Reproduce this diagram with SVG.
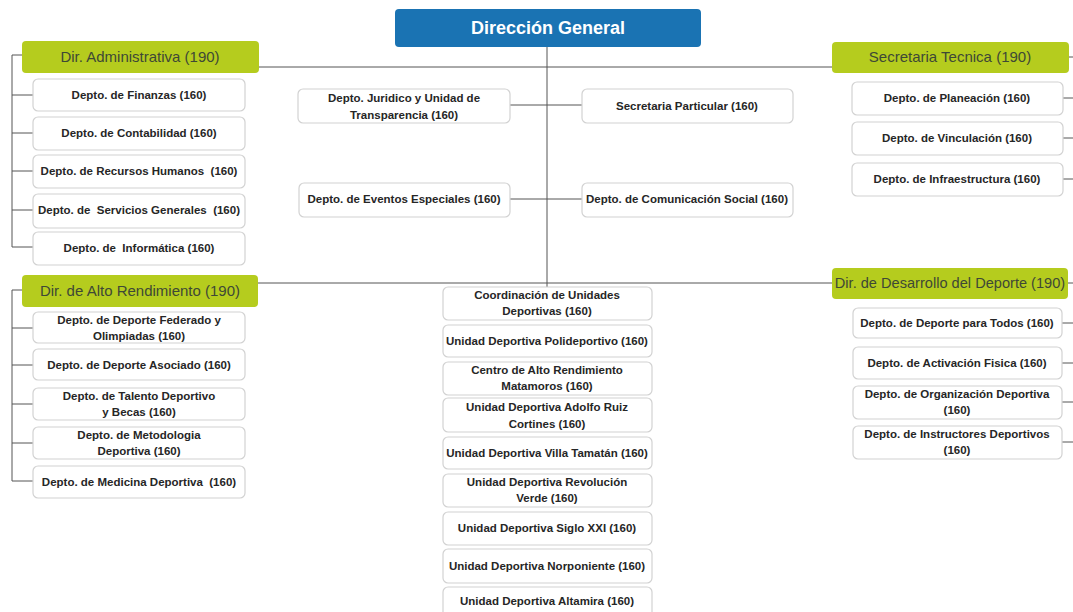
<svg xmlns="http://www.w3.org/2000/svg" width="1073" height="612" viewBox="0 0 1073 612">
<style>
.bg{fill:#ffffff}
.box{fill:#ffffff;stroke:#d2d2d2;stroke-width:1.2}
.hdr{fill:#b5cc1e}
.top{fill:#1a73b3}
.t{font-family:"Liberation Sans",Arial,sans-serif;font-size:11.5px;font-weight:bold;fill:#262626;text-anchor:middle}
.h{font-family:"Liberation Sans",Arial,sans-serif;font-size:15px;fill:#3e4836;text-anchor:middle}
.g{font-family:"Liberation Sans",Arial,sans-serif;font-size:18px;font-weight:bold;fill:#ffffff;text-anchor:middle}
.ln{stroke:#555555;stroke-width:1;fill:none}
.pre{white-space:pre}
</style>
<rect class="bg" x="0" y="0" width="1073" height="612"/>
<g id="connectors">
<path class="ln" d="M547 47 V287"/>
<path class="ln" d="M259 67 H832"/>
<path class="ln" d="M258 283 H832"/>
<path class="ln" d="M510 105 H582"/>
<path class="ln" d="M510 199 H582"/>
<path class="ln" d="M12 55 V247 M12 55 H22 M12 95 H33 M12 133 H33 M12 171 H33 M12 210 H33 M12 247 H33"/>
<path class="ln" d="M12 290 V481 M12 290 H22 M12 328 H33 M12 365 H33 M12 404 H33 M12 443 H33 M12 481 H33"/>
<path class="ln" d="M1069 57 H1073 M1063 98 H1073 M1063 138 H1073 M1063 179 H1073"/>
<path class="ln" d="M1068 283 H1073 M1062 323 H1073 M1062 363 H1073 M1062 402 H1073 M1062 442 H1073"/>
</g>
<g id="direccion-general"><rect class="top" x="395" y="9" width="306" height="38" rx="4"/><text class="g" x="548" y="34">Dirección General</text></g>
<g id="dir-administrativa"><rect class="hdr" x="22" y="41" width="237" height="32" rx="4"/><text class="h" x="140" y="62">Dir. Administrativa (190)</text></g>
<g id="finanzas"><rect class="box" x="33" y="79" width="212" height="32" rx="5"/><text class="t" x="139" y="99">Depto. de Finanzas (160)</text></g>
<g id="contabilidad"><rect class="box" x="33" y="117" width="212" height="33" rx="5"/><text class="t" x="139" y="137">Depto. de Contabilidad (160)</text></g>
<g id="recursos-humanos"><rect class="box" x="33" y="155" width="212" height="33" rx="5"/><text class="t pre" x="139" y="175">Depto. de Recursos Humanos  (160)</text></g>
<g id="servicios-generales"><rect class="box" x="33" y="194" width="212" height="34" rx="5"/><text class="t pre" x="139" y="214">Depto. de  Servicios Generales  (160)</text></g>
<g id="informatica"><rect class="box" x="33" y="232" width="212" height="33" rx="5"/><text class="t pre" x="139" y="252">Depto. de  Informática (160)</text></g>
<g id="juridico"><rect class="box" x="298" y="89" width="212" height="34" rx="5"/><text class="t" x="404" y="102">Depto. Juridico y Unidad de</text><text class="t" x="404" y="119">Transparencia (160)</text></g>
<g id="secretaria-particular"><rect class="box" x="582" y="89" width="211" height="34" rx="5"/><text class="t" x="687" y="110">Secretaria Particular (160)</text></g>
<g id="eventos-especiales"><rect class="box" x="299" y="183" width="211" height="34" rx="5"/><text class="t" x="404" y="203">Depto. de Eventos Especiales (160)</text></g>
<g id="comunicacion-social"><rect class="box" x="582" y="183" width="211" height="34" rx="5"/><text class="t" x="687" y="203">Depto. de Comunicación Social (160)</text></g>
<g id="secretaria-tecnica"><rect class="hdr" x="832" y="42" width="237" height="31" rx="4"/><text class="h" x="950" y="62">Secretaria Tecnica (190)</text></g>
<g id="planeacion"><rect class="box" x="852" y="82" width="211" height="33" rx="5"/><text class="t" x="957" y="102">Depto. de Planeación (160)</text></g>
<g id="vinculacion"><rect class="box" x="852" y="122" width="211" height="33" rx="5"/><text class="t" x="957" y="142">Depto. de Vinculación (160)</text></g>
<g id="infraestructura"><rect class="box" x="852" y="163" width="211" height="33" rx="5"/><text class="t" x="957" y="183">Depto. de Infraestructura (160)</text></g>
<g id="dir-alto-rendimiento"><rect class="hdr" x="22" y="275" width="236" height="32" rx="4"/><text class="h" x="140" y="296">Dir. de Alto Rendimiento (190)</text></g>
<g id="deporte-federado"><rect class="box" x="33" y="312" width="212" height="31" rx="5"/><text class="t" x="139" y="324">Depto. de Deporte Federado y</text><text class="t" x="139" y="340">Olimpiadas (160)</text></g>
<g id="deporte-asociado"><rect class="box" x="33" y="349" width="212" height="31" rx="5"/><text class="t" x="139" y="369">Depto. de Deporte Asociado (160)</text></g>
<g id="talento-deportivo"><rect class="box" x="33" y="388" width="212" height="32" rx="5"/><text class="t" x="139" y="400">Depto. de Talento Deportivo</text><text class="t" x="139" y="416">y Becas (160)</text></g>
<g id="metodologia"><rect class="box" x="33" y="427" width="212" height="32" rx="5"/><text class="t" x="139" y="439">Depto. de Metodologia</text><text class="t" x="139" y="455">Deportiva (160)</text></g>
<g id="medicina-deportiva"><rect class="box" x="33" y="466" width="212" height="32" rx="5"/><text class="t pre" x="139" y="486">Depto. de Medicina Deportiva  (160)</text></g>
<g id="coordinacion-unidades"><rect class="box" x="443" y="287" width="209" height="33" rx="5"/><text class="t" x="547" y="299">Coordinación de Unidades</text><text class="t" x="547" y="315">Deportivas (160)</text></g>
<g id="polideportivo"><rect class="box" x="443" y="325" width="209" height="32" rx="5"/><text class="t" x="547" y="345">Unidad Deportiva Polideportivo (160)</text></g>
<g id="centro-alto-rendimiento"><rect class="box" x="443" y="362" width="209" height="33" rx="5"/><text class="t" x="547" y="374">Centro de Alto Rendimiento</text><text class="t" x="547" y="390">Matamoros (160)</text></g>
<g id="adolfo-ruiz"><rect class="box" x="443" y="398" width="209" height="34" rx="5"/><text class="t" x="547" y="411">Unidad Deportiva Adolfo Ruiz</text><text class="t" x="547" y="428">Cortines (160)</text></g>
<g id="villa-tamatan"><rect class="box" x="443" y="437" width="209" height="32" rx="5"/><text class="t" x="547" y="457">Unidad Deportiva Villa Tamatán (160)</text></g>
<g id="revolucion-verde"><rect class="box" x="443" y="474" width="209" height="33" rx="5"/><text class="t" x="547" y="486">Unidad Deportiva Revolución</text><text class="t" x="547" y="502">Verde (160)</text></g>
<g id="siglo-xxi"><rect class="box" x="443" y="512" width="209" height="33" rx="5"/><text class="t" x="547" y="532">Unidad Deportiva Siglo XXI (160)</text></g>
<g id="norponiente"><rect class="box" x="443" y="549" width="209" height="34" rx="5"/><text class="t" x="547" y="570">Unidad Deportiva Norponiente (160)</text></g>
<g id="altamira"><rect class="box" x="443" y="587" width="209" height="34" rx="5"/><text class="t" x="547" y="605">Unidad Deportiva Altamira (160)</text></g>
<g id="dir-desarrollo-deporte"><rect class="hdr" x="832" y="268" width="236" height="31" rx="4"/><text class="h" x="950" y="288" style="font-size:14.6px">Dir. de Desarrollo del Deporte (190)</text></g>
<g id="deporte-para-todos"><rect class="box" x="853" y="308" width="209" height="30" rx="5"/><text class="t" x="957" y="327">Depto. de Deporte para Todos (160)</text></g>
<g id="activacion-fisica"><rect class="box" x="853" y="347" width="209" height="32" rx="5"/><text class="t" x="957" y="367">Depto. de Activación Fisica (160)</text></g>
<g id="organizacion-deportiva"><rect class="box" x="853" y="386" width="209" height="33" rx="5"/><text class="t" x="957" y="398">Depto. de Organización Deportiva</text><text class="t" x="957" y="414">(160)</text></g>
<g id="instructores-deportivos"><rect class="box" x="853" y="426" width="209" height="33" rx="5"/><text class="t" x="957" y="438">Depto. de Instructores Deportivos</text><text class="t" x="957" y="454">(160)</text></g>
</svg>
